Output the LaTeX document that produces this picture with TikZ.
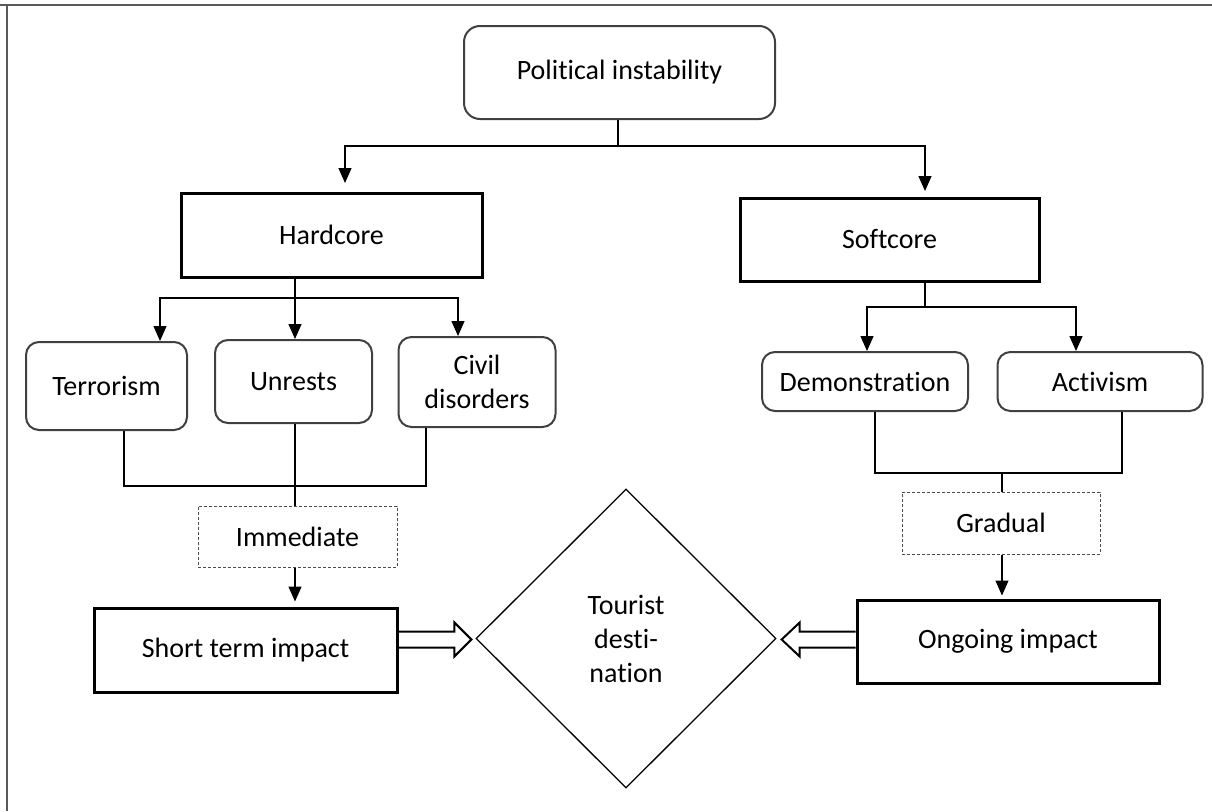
\documentclass[tikz,border=0pt]{standalone}
\usepackage{fontspec}
\setmainfont[RawFeature=-liga]{Carlito}
\usetikzlibrary{shapes.geometric,arrows.meta,calc}
\begin{document}
\begin{tikzpicture}[x=1pt,y=-1pt,
  txt/.style={font=\fontsize{28}{34}\selectfont, align=center, inner sep=0pt},
  rbox/.style={txt, draw=black!75, line width=2pt, rounded corners=13pt},
  tbox/.style={txt, draw=black, line width=3pt},
  dbox/.style={txt, draw=black!70, line width=1pt, dash pattern=on 3pt off 2pt},
  conn/.style={line width=1.3pt},
  arr/.style={conn, -{Triangle[length=15pt,width=13pt]}},
  fat/.style={line width=2pt, line join=miter}
]
\useasboundingbox (0,0) rectangle (1212,811);
\draw[line width=2pt, black!65] (0,5) -- (1212,5);
\draw[line width=2pt, black!65] (7,5) -- (7,811);

\node[rbox, minimum width=311pt, minimum height=93pt, rounded corners=16pt] (pol) at (619.5,72.5) {Political instability};
\node[tbox, minimum width=301pt, minimum height=84pt] (hard) at (331.5,235) {Hardcore};
\node[tbox, minimum width=299pt, minimum height=83pt] (soft) at (889.5,239.5) {Softcore};
\node[rbox, minimum width=161pt, minimum height=88pt] (terr) at (106.5,386) {Terrorism};
\node[rbox, minimum width=157pt, minimum height=83pt] (unr) at (293.5,381.5) {Unrests};
\node[rbox, minimum width=157pt, minimum height=90pt] (civ) at (477,382) {Civil\\disorders};
\node[rbox, minimum width=206pt, minimum height=59pt] (demo) at (865,381.5) {Demonstration};
\node[rbox, minimum width=205pt, minimum height=59pt] (act) at (1100,381.5) {Activism};
\node[dbox, minimum width=199pt, minimum height=61pt] (imm) at (297.5,536.5) {Immediate};
\node[dbox, minimum width=198pt, minimum height=62pt] (grad) at (1001,523) {Gradual};
\node[tbox, minimum width=303pt, minimum height=84pt] (st) at (245.5,650) {Short term impact};
\node[tbox, minimum width=302pt, minimum height=83pt] (ong) at (1008,641.5) {Ongoing impact};
\node[txt, diamond, draw, line width=1.3pt, minimum width=300pt, minimum height=299pt] (dest) at (626,638.5) {Tourist\\desti-\\nation};

% top split
\coordinate (j1) at (618,146);
\coordinate (tH) at (345,183);
\coordinate (tS) at (925,191);
\draw[conn] (pol.south -| j1) -- (j1);
\draw[arr] (j1) -| (tH);
\draw[arr] (j1) -| (tS);

% hardcore split
\coordinate (j2) at (295,298);
\coordinate (aT) at (160,0);
\coordinate (aC) at (458,0);
\draw[conn] (hard.south -| j2) -- (j2);
\draw[arr] (j2) -- (unr.north -| j2);
\draw[arr] (j2) -| (terr.north -| aT);
\draw[arr] (j2) -| (civ.north -| aC);

% hardcore join
\coordinate (b1) at (124,486);
\coordinate (b2) at (426,486);
\draw[conn] (terr.south -| b1) -- (b1) -- (b2) -- (civ.south -| b2);
\draw[conn] (unr.south -| j2) -- (imm.north -| j2);
\draw[arr] (imm.south -| j2) -- ([yshift=5pt]st.north -| j2);

% softcore split
\coordinate (j3) at (925,307);
\coordinate (aD) at (867,0);
\coordinate (aA) at (1076,0);
\draw[conn] (soft.south -| j3) -- (j3);
\draw[arr] (j3) -| (demo.north -| aD);
\draw[arr] (j3) -| (act.north -| aA);

% softcore join
\coordinate (c1) at (875,473);
\coordinate (c2) at (1122,473);
\coordinate (cm) at (1002,473);
\draw[conn] (demo.south -| c1) -- (c1) -- (c2) -- (act.south -| c2);
\draw[conn] (cm) -- (grad.north -| cm);
\draw[arr] (grad.south -| cm) -- ([yshift=3pt]ong.north -| cm);

% fat arrows
\coordinate (lt) at ($(dest.west)+(-4,1)$);
\coordinate (la) at ($(lt)+(-17,-8)$);
\coordinate (lb) at ($(lt)+(-17,8)$);
\draw[fat] (st.east |- la) -- (la) -- ++(0,-9) -- (lt) -- ($(lt)+(-17,17)$) -- (lb) -- (st.east |- lb);
\coordinate (rt) at ($(dest.east)+(5,1)$);
\coordinate (ra) at ($(rt)+(18,-8)$);
\coordinate (rb) at ($(rt)+(18,8)$);
\draw[fat] (ong.west |- ra) -- (ra) -- ++(0,-9) -- (rt) -- ($(rt)+(18,17)$) -- (rb) -- (ong.west |- rb);
\end{tikzpicture}
\end{document}
